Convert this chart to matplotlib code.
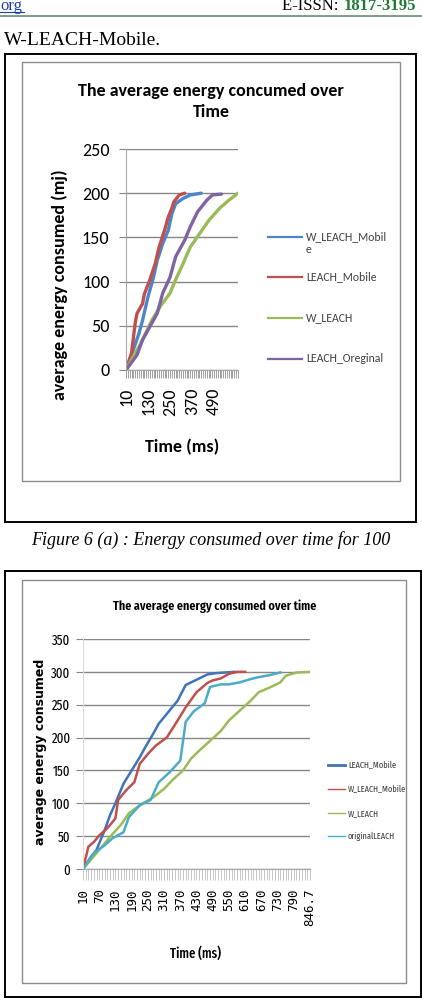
import matplotlib
matplotlib.use("Agg")
import matplotlib.pyplot as plt
from matplotlib.lines import Line2D
from matplotlib.patches import Rectangle

W, H = 422, 1000

# ---- figure (a): 100 nodes ----
cats_a = list(range(10, 630, 10))
labels_a = ["W_LEACH_Mobil\ne", "LEACH_Mobile", "W_LEACH", "LEACH_Oreginal"]
colors_a = ["#4A86C8", "#C0504D", "#9BBB59", "#8064A2"]

t_wlm_a = [10, 50, 80, 100, 130, 160, 180, 210, 240, 260, 280, 320, 360, 420]
v_wlm_a = [0, 23, 41, 56, 83, 105, 124, 143, 158, 177, 188, 194, 198, 200]
t_lm_a = [10, 40, 60, 70, 100, 110, 140, 170, 190, 220, 240, 260, 270, 300, 330]
v_lm_a = [0, 19, 53, 64, 75, 86, 102, 121, 139, 158, 173, 183, 190, 198, 200]
t_wl_a = [10, 90, 150, 200, 250, 280, 320, 360, 410, 460, 520, 570, 620]
v_wl_a = [0, 30, 56, 73, 87, 102, 120, 139, 154, 169, 183, 192, 200]
t_lo_a = [10, 70, 100, 140, 180, 210, 250, 280, 330, 360, 400, 450, 480, 530]
v_lo_a = [0, 17, 34, 49, 64, 87, 105, 128, 147, 162, 179, 192, 198, 199]

# ---- figure (b) ----
cats_b = list(range(10, 850, 10)) + [846.7]
labels_b = ["LEACH_Mobile", "W_LEACH_Mobile", "W_LEACH", "originalLEACH"]
colors_b = ["#4073B8", "#C0504D", "#9BBB59", "#4BACC6"]

t_lm_b = [10, 40, 60, 90, 110, 130, 160, 190, 220, 240, 270, 290, 320, 360,
          390, 430, 470, 500, 570]
v_lm_b = [0, 19, 29, 59, 82, 100, 130, 150, 170, 185, 206, 221, 236, 256,
          280, 288, 296, 298, 300]
t_wlm_b = [10, 30, 50, 70, 100, 130, 140, 170, 200, 220, 250, 280, 320, 360,
           390, 430, 470, 490, 520, 550, 580, 610]
v_wlm_b = [0, 34, 41, 51, 62, 77, 105, 120, 132, 160, 175, 188, 200, 226,
           246, 269, 283, 287, 290, 297, 300, 300]
t_wl_b = [10, 70, 110, 150, 180, 220, 270, 310, 340, 380, 410, 440, 480, 520,
          550, 590, 630, 660, 700, 740, 760, 800, 846.7]
v_wl_b = [0, 29, 49, 67, 85, 97, 109, 122, 135, 150, 168, 180, 195, 210,
          226, 241, 256, 269, 276, 284, 294, 299, 300]
t_lo_b = [10, 50, 90, 120, 160, 180, 220, 260, 290, 330, 370, 390, 420, 460,
          480, 520, 550, 590, 630, 660, 700, 740]
v_lo_b = [0, 24, 36, 47, 56, 79, 97, 105, 132, 147, 165, 224, 240, 252,
          277, 281, 281, 284, 289, 292, 295, 299]

CAL = ["Carlito", "DejaVu Sans"]
NARROW = ["Fira Sans Extra Condensed", "DejaVu Sans"]
SERIF = ["Liberation Serif", "DejaVu Serif"]


def fx(x):
    return x / W


def fy(y):
    return 1 - y / H


def box(fig, x0, y0, x1, y1, color, lw):
    fig.add_artist(Rectangle((fx(x0), fy(y1)), (x1 - x0) / W, (y1 - y0) / H,
                             transform=fig.transFigure, fill=False,
                             edgecolor=color, lw=lw))


def key(fig, x0, x1, y, color, lw):
    fig.add_artist(Line2D([fx(x0), fx(x1)], [fy(y), fy(y)],
                          transform=fig.transFigure, color=color, lw=lw))


def style_axes(ax, cats, ymax, ystep, tickcolor, ticklen):
    ax.set_xlim(0, len(cats) - 1)
    ax.set_ylim(0, ymax)
    ax.set_yticks(range(0, ymax + 1, ystep))
    ax.yaxis.grid(True, color="#868686", lw=1)
    ax.set_axisbelow(True)
    for s in ["top", "right"]:
        ax.spines[s].set_visible(False)
    ax.spines["left"].set_color("#a6a6a6")
    ax.spines["bottom"].set_color("#a6a6a6")
    ax.set_xticks(range(len(cats)), minor=True)
    ax.tick_params(axis="x", which="both", length=ticklen, color=tickcolor,
                   width=0.7)
    ax.tick_params(axis="y", length=5, color="#868686")


fig = plt.figure(figsize=(W / 100, H / 100), dpi=100)

# page header
fig.text(0.0, fy(10), "org", color="#1F3FA8", family=SERIF, size=12,
         va="baseline")
fig.add_artist(Line2D([0, fx(24)], [fy(12), fy(12)], transform=fig.transFigure,
                      color="#1F3FA8", lw=0.8))
fig.text(fx(343), fy(10), "E-ISSN: ", family=SERIF, size=12, ha="right",
         va="baseline")
fig.text(fx(344), fy(10), "1817-3195", family=SERIF, size=12, weight="bold",
         color="#1E7B34", ha="left", va="baseline")
fig.add_artist(Line2D([0, 1], [fy(16), fy(16)], transform=fig.transFigure,
                      color="#6F8F6F", lw=1.2))
fig.text(fx(4), fy(45), "W-LEACH-Mobile.", family=SERIF, size=14,
         va="baseline")

box(fig, 5, 54, 416, 522, "black", 1.4)
box(fig, 22, 62, 400, 481, "#8C8C8C", 1.0)
fig.text(0.5, fy(540), "Figure 6 (a) : Energy consumed over time for 100",
         family=SERIF, style="italic", size=13, ha="center", va="center")
box(fig, 5, 571, 421, 997, "black", 1.4)
box(fig, 22, 580, 406, 983, "#8C8C8C", 1.0)

# chart (a)
ax1 = fig.add_axes([fx(126), fy(370), 112 / W, 221 / H])
series_a = [(t_wlm_a, v_wlm_a), (t_lm_a, v_lm_a), (t_wl_a, v_wl_a), (t_lo_a, v_lo_a)]
for (t, v), c in zip(series_a, colors_a):
    ax1.plot([cats_a.index(x) for x in t], v, color=c, lw=2.4,
             solid_capstyle="round", solid_joinstyle="round")
style_axes(ax1, cats_a, 250, 50, "#a0a0a0", 6)
major_a = list(range(0, len(cats_a) - 12, 12))
ax1.set_xticks(major_a)
ax1.set_xticklabels([str(cats_a[i]) for i in major_a], rotation=90,
                    family=CAL, size=13, va="top")
ax1.tick_params(axis="x", pad=7)
ax1.tick_params(axis="y", labelsize=13, pad=7)
for lab in ax1.get_yticklabels():
    lab.set_family(CAL)

fig.text(fx(211), fy(101.5), "The average energy concumed over\nTime",
         family=CAL, weight="bold", size=13, ha="center", va="center",
         linespacing=1.4)
fig.text(fx(60), fy(285), "average energy consumed (mj)", family=CAL,
         weight="bold", size=13, rotation=90, ha="center", va="center")
fig.text(fx(182), fy(447), "Time (ms)", family=CAL, weight="bold", size=13,
         ha="center", va="center")
for y, c, lab in zip([237, 277, 318, 359], colors_a, labels_a):
    key(fig, 268, 302, y, c, 1.6)
    fig.text(fx(306), fy(y - 6), lab, ha="left", va="top", color="#404040",
             family=CAL, size=8.5, linespacing=1.25)

# chart (b)
ax2 = fig.add_axes([fx(83), fy(869), 227 / W, 230 / H])
series_b = [(t_lm_b, v_lm_b), (t_wlm_b, v_wlm_b), (t_wl_b, v_wl_b), (t_lo_b, v_lo_b)]
for (t, v), c in zip(series_b, colors_b):
    ax2.plot([cats_b.index(x) for x in t], v, color=c, lw=1.8,
             solid_joinstyle="round")
style_axes(ax2, cats_b, 350, 50, "#c8c8c8", 8)
ax2.spines["left"].set_color("#dcdcdc")
major_b = list(range(0, len(cats_b), 6))
ax2.set_xticks(major_b)
ax2.set_xticklabels([f"{cats_b[i]:g}" for i in major_b], rotation=90,
                    family="DejaVu Sans Mono", size=9, va="top")
ax2.tick_params(axis="x", pad=6)
ax2.tick_params(axis="y", labelsize=10, pad=4)
for lab in ax2.get_yticklabels():
    lab.set_family(NARROW)

fig.text(fx(215), fy(606), "The average energy consumed over time",
         family=NARROW, weight="semibold", size=9.5, ha="center", va="center")
fig.text(fx(41), fy(752), "average energy consumed", family="DejaVu Sans",
         weight="bold", size=9, rotation=90, ha="center", va="center")
fig.text(fx(196), fy(953), "Time (ms)", family=NARROW, weight="medium",
         size=10, ha="center", va="center")
for y, c, lw, lab in zip([765, 789, 813, 836], colors_b, [2, 1, 1, 1], labels_b):
    key(fig, 328, 345, y, c, lw)
    fig.text(fx(348), fy(y), lab, ha="left", va="center", color="#404040",
             family=NARROW, size=6.5)

fig.savefig("out.png", dpi=100)
